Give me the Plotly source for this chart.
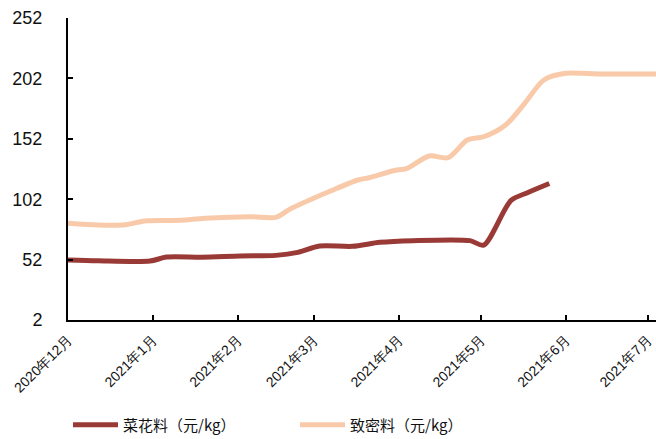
import plotly.graph_objects as go

# 菜花料 (元/kg)
dates_a = ["2020-12-01", "2020-12-12", "2020-12-31", "2021-01-06", "2021-01-19", "2021-02-02",
           "2021-02-15", "2021-02-23", "2021-03-03", "2021-03-15", "2021-03-25", "2021-04-06",
           "2021-04-27", "2021-05-02", "2021-05-12", "2021-05-18", "2021-05-26"]
vals_a = [51.7, 51.0, 50.8, 54.1, 54.0, 55.0, 55.5, 58.0, 63.3, 63.0, 66.3, 67.7,
          67.7, 64.0, 101.0, 107.4, 115.0]

# 致密料 (元/kg)
dates_b = ["2020-12-01", "2020-12-12", "2020-12-22", "2020-12-29", "2021-01-11", "2021-01-20",
           "2021-02-06", "2021-02-15", "2021-02-20", "2021-03-01", "2021-03-07", "2021-03-17",
           "2021-03-21", "2021-03-30", "2021-04-04", "2021-04-12", "2021-04-19", "2021-04-26",
           "2021-05-02", "2021-05-10", "2021-05-17", "2021-05-24", "2021-06-01", "2021-06-14",
           "2021-07-04"]
vals_b = [82.0, 80.6, 80.8, 84.0, 84.5, 86.2, 87.5, 87.0, 93.6, 103.0, 108.8, 117.9,
          119.8, 125.6, 127.6, 137.8, 136.4, 151.0, 153.7, 163.4, 181.4, 200.7, 206.2, 205.6,
          205.6]

tick_dates = ["2020-12-01", "2021-01-01", "2021-02-01", "2021-03-01", "2021-04-01",
              "2021-05-01", "2021-06-01", "2021-07-01"]
tick_text = ["2020年12月", "2021年1月", "2021年2月", "2021年3月", "2021年4月",
             "2021年5月", "2021年6月", "2021年7月"]
y_ticks = [2, 52, 102, 152, 202, 252]

fig = go.Figure()
fig.add_trace(go.Scatter(x=dates_a, y=vals_a, mode="lines", name="菜花料（元/kg）",
                         line=dict(color="#993a36", width=5, shape="spline", smoothing=0.8)))
fig.add_trace(go.Scatter(x=dates_b, y=vals_b, mode="lines", name="致密料（元/kg）",
                         line=dict(color="#f8caa9", width=5, shape="spline", smoothing=0.8)))

fig.update_layout(
    width=656, height=439,
    margin=dict(l=68, r=0, t=18, b=119, autoexpand=False),
    plot_bgcolor="white", paper_bgcolor="white",
    showlegend=True,
    legend=dict(orientation="h", x=0.0, xanchor="left",
                yref="container", y=0.032, yanchor="middle",
                font=dict(family="Noto Sans CJK SC", size=15, color="#111"),
                itemwidth=45,
                entrywidth=167, entrywidthmode="pixels", bgcolor="rgba(0,0,0,0)"),
    xaxis=dict(type="date", range=["2020-12-01", "2021-07-04"], automargin=False,
               tickvals=tick_dates, ticktext=tick_text, tickangle=-45,
               showgrid=False, zeroline=False, showline=True, linecolor="black", linewidth=2,
               ticks="inside", ticklen=5, tickcolor="black", tickwidth=1.5,
               ticklabelstandoff=4,
               tickfont=dict(family="Liberation Sans", size=14, color="#111")),
    yaxis=dict(range=[2, 252], tickvals=y_ticks, automargin=False,
               showgrid=False, zeroline=False, showline=True, linecolor="black", linewidth=2,
               ticks="inside", ticklen=5, tickcolor="black", tickwidth=1.5,
               ticklabelstandoff=20,
               tickfont=dict(family="Liberation Sans", size=18, color="#111")),
)

fig.write_html("out.html", config={"displayModeBar": False},
               post_script="document.body.style.margin='0';")
